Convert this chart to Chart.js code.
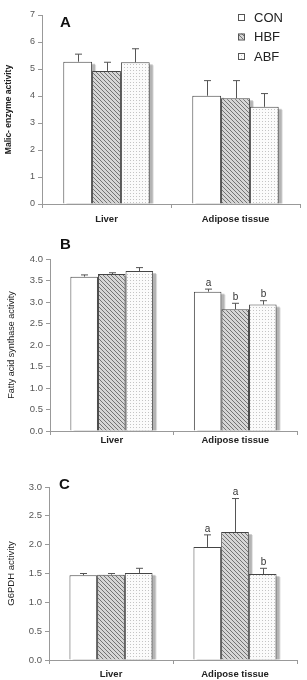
<!DOCTYPE html>
<html>
<head>
<meta charset="utf-8">
<script src="https://cdn.jsdelivr.net/npm/chart.js@4.4.1/dist/chart.umd.min.js"></script>
<style>
  body { margin: 0; background: #fff; }
  .panel { position: absolute; left: 0; width: 307px; }
</style>
</head>
<body>
<div class="panel" style="top:0;height:228px"><canvas id="chartA"></canvas></div>
<div class="panel" style="top:228px;height:220px"><canvas id="chartB"></canvas></div>
<div class="panel" style="top:448px;height:232px"><canvas id="chartC"></canvas></div>
<script>
// data
const categories = ['Liver', 'Adipose tissue'];
const groups = ['CON', 'HBF', 'ABF'];

// A - malic enzyme
const conA = [5.27, 4.01];
const hbfA = [4.93, 3.92];
const abfA = [5.25, 3.60];
const conAErr = [0.28, 0.56];
const hbfAErr = [0.32, 0.65];
const abfAErr = [0.50, 0.49];

// B - fatty acid synthase
const conB = [3.59, 3.24];
const hbfB = [3.65, 2.83];
const abfB = [3.72, 2.94];
const conBErr = [0.04, 0.06];
const hbfBErr = [0.03, 0.14];
const abfBErr = [0.08, 0.09];
const conBSig = ['', 'a'];
const hbfBSig = ['', 'b'];
const abfBSig = ['', 'b'];

// C - G6PDH
const conC = [1.47, 1.96];
const hbfC = [1.48, 2.22];
const abfC = [1.51, 1.49];
const conCErr = [0.03, 0.21];
const hbfCErr = [0.02, 0.58];
const abfCErr = [0.08, 0.10];
const conCSig = ['', 'a'];
const hbfCSig = ['', 'a'];
const abfCSig = ['', 'b'];

const yTicksA = { min: 0, max: 7, step: 1, digits: 0 };
const yTicksB = { min: 0, max: 4, step: 0.5, digits: 1 };
const yTicksC = { min: 0, max: 3, step: 0.5, digits: 1 };

/* fill patterns */
function hatch() {
  const c = document.createElement('canvas');
  c.width = 4; c.height = 4;
  const g = c.getContext('2d');
  g.fillStyle = '#d6d6d6';
  g.fillRect(0, 0, 4, 4);
  g.strokeStyle = '#747474';
  g.lineWidth = 1;
  g.beginPath();
  g.moveTo(-1, -1); g.lineTo(5, 5);
  g.moveTo(-1, 3); g.lineTo(1, 5);
  g.moveTo(3, -1); g.lineTo(5, 1);
  g.stroke();
  return g.createPattern(c, 'repeat');
}
function dots() {
  const c = document.createElement('canvas');
  c.width = 3; c.height = 3;
  const g = c.getContext('2d');
  g.fillStyle = '#fbfbfb';
  g.fillRect(0, 0, 3, 3);
  g.fillStyle = '#c4c4c4';
  g.fillRect(1, 1, 1, 1);
  return g.createPattern(c, 'repeat');
}
const fills = ['#ffffff', hatch(), dots()];

// error bars + significance letters, drawn through the y scale
const errorBars = {
  id: 'errorBars',
  afterDatasetsDraw(chart) {
    const ctx = chart.ctx;
    const y = chart.scales.y;
    ctx.save();
    ctx.strokeStyle = '#555';
    ctx.lineWidth = 1;
    ctx.fillStyle = '#333';
    ctx.font = '10px "Liberation Sans", Arial';
    ctx.textAlign = 'center';
    ctx.textBaseline = 'bottom';
    chart.data.datasets.forEach((ds, i) => {
      chart.getDatasetMeta(i).data.forEach((bar, j) => {
        const top = y.getPixelForValue(ds.data[j] + ds.err[j]);
        const x = Math.round(bar.x) + 0.5;
        ctx.beginPath();
        ctx.moveTo(x, bar.y);
        ctx.lineTo(x, top);
        ctx.moveTo(x - 3.5, top);
        ctx.lineTo(x + 3.5, top);
        ctx.stroke();
        if (ds.sig && ds.sig[j]) ctx.fillText(ds.sig[j], x, top - 1);
      });
    });
    ctx.restore();
  }
};

// grey shadow behind each bar, offset right; neighbours cover most of it
const barShadow = {
  id: 'barShadow',
  beforeDatasetsDraw(chart) {
    const ctx = chart.ctx;
    ctx.save();
    chart.data.datasets.forEach((ds, i) => {
      chart.getDatasetMeta(i).data.forEach(bar => {
        const l = bar.x - bar.width / 2;
        const h = bar.base - bar.y;
        ctx.fillStyle = 'rgba(0,0,0,0.12)';
        ctx.fillRect(l + 4, bar.y + 3, bar.width, h - 3);
        ctx.fillStyle = 'rgba(0,0,0,0.2)';
        ctx.fillRect(l + 3, bar.y + 2, bar.width, h - 2);
      });
    });
    ctx.restore();
  }
};

const panelLabel = {
  id: 'panelLabel',
  afterDraw(chart, args, o) {
    const ctx = chart.ctx;
    ctx.save();
    ctx.fillStyle = '#111';
    ctx.font = 'bold 15px "Liberation Sans", Arial';
    ctx.textBaseline = 'middle';
    ctx.fillText(o.text, o.x, o.y);
    if (o.legend) {
      ctx.font = '13px "Liberation Sans", Arial';
      chart.data.datasets.forEach((ds, i) => {
        const ly = o.legend.y + i * o.legend.gap;
        ctx.fillStyle = ds.backgroundColor;
        ctx.fillRect(o.legend.x, ly - 3, 6, 6);
        ctx.strokeStyle = '#555';
        ctx.strokeRect(o.legend.x + 0.5, ly - 2.5, 6, 6);
        ctx.fillStyle = '#222';
        ctx.fillText(ds.label, o.legend.x + 16, ly + 1);
      });
    }
    ctx.restore();
  }
};

function makeChart(id, series, errs, sigs, ticks, p) {
  return new Chart(document.getElementById(id), {
    type: 'bar',
    data: {
      labels: categories,
      datasets: groups.map((g, i) => ({
        label: g,
        data: series[i],
        err: errs[i],
        sig: sigs ? sigs[i] : null,
        backgroundColor: fills[i],
        borderColor: '#444',
        borderWidth: 1,
        borderSkipped: 'bottom',
        categoryPercentage: 0.67,
        barPercentage: 1.0
      }))
    },
    options: {
      responsive: true,
      maintainAspectRatio: false,
      animation: false,
      layout: { padding: { top: p.top, right: p.right, left: 0, bottom: 0 } },
      plugins: {
        legend: { display: false },
        tooltip: { enabled: false },
        panelLabel: p.label
      },
      scales: {
        x: {
          afterFit: s => { s.height = p.xh; },
          grid: { drawOnChartArea: false, offset: true, tickLength: 4, color: '#999' },
          border: { color: '#999' },
          ticks: { color: '#222', padding: p.xpad, font: { family: '"Liberation Sans", Arial', size: 9.5, weight: 'bold' } }
        },
        y: {
          min: ticks.min,
          max: ticks.max,
          afterFit: s => { s.width = p.yw; },
          grid: { drawOnChartArea: false, tickLength: 4, color: '#999' },
          border: { color: '#999' },
          ticks: {
            stepSize: ticks.step,
            color: '#555',
            padding: 3,
            font: { family: '"Liberation Sans", Arial', size: p.tickSize },
            callback: v => v.toFixed(ticks.digits)
          },
          title: {
            display: true,
            text: p.title,
            color: '#222',
            padding: { top: p.tpad, bottom: 0 },
            font: { family: '"Liberation Sans", Arial', size: p.titleSize, weight: p.titleWeight }
          }
        }
      }
    },
    plugins: [barShadow, errorBars, panelLabel]
  });
}

makeChart('chartA', [conA, hbfA, abfA], [conAErr, hbfAErr, abfAErr], null, yTicksA, {
  top: 15, right: 7, xh: 24, yw: 42, xpad: 6, tickSize: 9, tpad: 4,
  title: 'Malic- enzyme activity', titleWeight: 'bold', titleSize: 8.5,
  label: { text: 'A', x: 60, y: 23, legend: { x: 238, y: 17, gap: 19.5 } }
});
makeChart('chartB', [conB, hbfB, abfB], [conBErr, hbfBErr, abfBErr], [conBSig, hbfBSig, abfBSig], yTicksB, {
  top: 31, right: 10, xh: 17, yw: 50, xpad: 0, tickSize: 9.5, tpad: 6,
  title: 'Fatty acid synthase activity', titleWeight: 'normal', titleSize: 9,
  label: { text: 'B', x: 60, y: 17 }
});
makeChart('chartC', [conC, hbfC, abfC], [conCErr, hbfCErr, abfCErr], [conCSig, hbfCSig, abfCSig], yTicksC, {
  top: 39, right: 10, xh: 20, yw: 49, xpad: 5, tickSize: 9.5, tpad: 6,
  title: 'G6PDH activity', titleWeight: 'normal', titleSize: 9.5,
  label: { text: 'C', x: 59, y: 37 }
});
</script>
</body>
</html>
